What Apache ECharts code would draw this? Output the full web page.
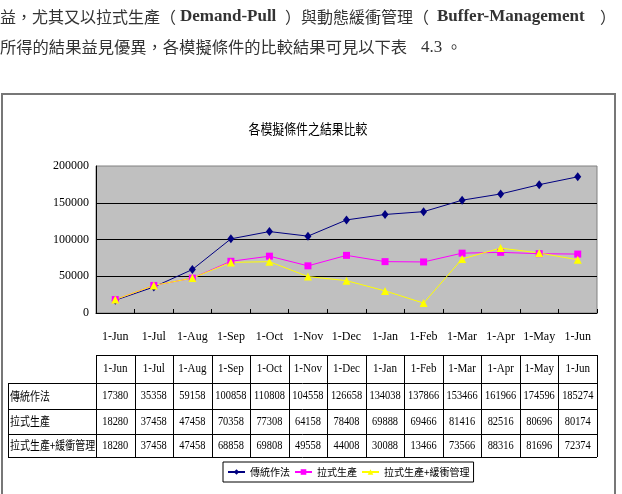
<!DOCTYPE html>
<html>
<head>
<meta charset="utf-8">
<script src="https://cdn.jsdelivr.net/npm/echarts/dist/echarts.min.js"></script>
<style>
html, body { margin: 0; padding: 0; background: #fff; }
#main { width: 622px; height: 494px; }
</style>
</head>
<body>
<div id="main"></div>
<script>
// data (table 4.3)
const months = ['1-Jun', '1-Jul', '1-Aug', '1-Sep', '1-Oct', '1-Nov', '1-Dec', '1-Jan', '1-Feb', '1-Mar', '1-Apr', '1-May', '1-Jun'];
const seriesNames = ['傳統作法', '拉式生產', '拉式生產+緩衝管理'];
const traditional = [17380, 35358, 59158, 100858, 110808, 104558, 126658, 134038, 137866, 153466, 161966, 174596, 185274];
const pull = [18280, 37458, 47458, 70358, 77308, 64158, 78408, 69888, 69466, 81416, 82516, 80696, 80174];
const pullBuffer = [18280, 37458, 47458, 68858, 69808, 49558, 44008, 30088, 13466, 73566, 88316, 81696, 72374];
const yMax = 200000;
const yStep = 50000;
const chartTitle = '各模擬條件之結果比較';

const CJK = "'Noto Sans CJK TC', sans-serif";
const SERIF = "'Liberation Serif', 'Times New Roman', serif";

// plot box
const plotL = 96, plotR = 597, plotT = 166, plotB = 313;
const colW = (plotR - plotL) / months.length;

const chartDom = document.getElementById('main');
let myChart = echarts.init(chartDom);

// page text above the chart
function pageText(x, y, text, font, size, weight) {
  return {
    type: 'text', x: x, y: y, z: 10,
    style: { text: text, fontFamily: font, fontSize: size, fontWeight: weight || 'normal',
      fill: '#333', textVerticalAlign: 'middle', textAlign: 'left' }
  };
}

let graphics = [
  pageText(0, 17, '益，尤其又以拉式生產（', CJK, 16),
  pageText(180, 17, 'Demand-Pull', SERIF, 17, 'bold'),
  pageText(285, 17, '）與動態緩衝管理（', CJK, 16),
  pageText(437, 17, 'Buffer-Management', SERIF, 17, 'bold'),
  pageText(600, 17, '）', CJK, 16),
  pageText(0, 47, '所得的結果益見優異，各模擬條件的比較結果可見以下表', CJK, 16.3),
  pageText(421, 48, '4.3', SERIF, 17),
  pageText(446, 47, '。', CJK, 16),
  // chart frame
  {
    type: 'rect', z: 1,
    shape: { x: 2, y: 94, width: 613, height: 430 },
    style: { fill: 'none', stroke: '#777', lineWidth: 2 }
  },
  {
    type: 'text', x: 308, y: 129, scaleX: 0.85, z: 10,
    style: { text: chartTitle, fontFamily: CJK, fontSize: 14, fill: '#000',
      textAlign: 'center', textVerticalAlign: 'middle' }
  }
];

// data table under the axis
const rowY = [355, 383, 409, 434, 457];
const tableL = 8;
function hLine(x1, x2, y) {
  return { type: 'line', z: 10, shape: { x1: x1, y1: y, x2: x2, y2: y }, style: { stroke: '#000', lineWidth: 1 } };
}
function vLine(x, y1, y2) {
  return { type: 'line', z: 10, shape: { x1: x, y1: y1, x2: x, y2: y2 }, style: { stroke: '#000', lineWidth: 1 } };
}
function cellText(x, y, text, font, size, align, sx) {
  return {
    type: 'text', x: x, y: y, scaleX: sx, z: 10,
    style: { text: text, fontFamily: font, fontSize: size, fill: '#000',
      textAlign: align, textVerticalAlign: 'middle' }
  };
}
graphics.push(hLine(plotL, plotR, rowY[0] + 0.5));
for (let r = 1; r < rowY.length; r++) graphics.push(hLine(tableL, plotR, rowY[r] + 0.5));
for (let c = 0; c <= months.length; c++) graphics.push(vLine(Math.round(plotL + c * colW) + 0.5, rowY[0], rowY[4]));
graphics.push(vLine(tableL + 0.5, rowY[1], rowY[4]));

const rows = [traditional, pull, pullBuffer];
months.forEach((m, i) => {
  const cx = plotL + (i + 0.5) * colW;
  graphics.push(cellText(cx, (rowY[0] + rowY[1]) / 2, m, SERIF, 13, 'center', 0.85));
  rows.forEach((vals, r) => {
    graphics.push(cellText(cx, (rowY[r + 1] + rowY[r + 2]) / 2, String(vals[i]), SERIF, 13, 'center', 0.8));
  });
});
seriesNames.forEach((name, r) => {
  graphics.push(cellText(tableL + 2, (rowY[r + 1] + rowY[r + 2]) / 2, name, CJK, 12, 'left', 0.83));
});

let option = {
  backgroundColor: '#fff',
  animation: false,
  grid: {
    left: plotL, right: 622 - plotR, top: plotT, bottom: 494 - plotB,
    show: true, backgroundColor: '#c0c0c0', borderColor: '#808080', borderWidth: 1,
    containLabel: false, outerBoundsMode: 'none'
  },
  legend: {
    left: 223, top: 462,
    orient: 'horizontal',
    borderColor: '#000', borderWidth: 1,
    padding: [5, 4],
    itemGap: 4,
    itemWidth: 17, itemHeight: 7,
    textStyle: { fontFamily: CJK, fontSize: 10, color: '#000' },
    data: seriesNames
  },
  xAxis: {
    type: 'category',
    data: months,
    boundaryGap: true,
    axisLine: { lineStyle: { color: '#000', width: 1 } },
    axisTick: { show: true, inside: true, length: 4, lineStyle: { color: '#000' } },
    axisLabel: { margin: 18, fontFamily: SERIF, fontSize: 12, color: '#000', interval: 0 },
    splitLine: { show: false }
  },
  yAxis: {
    type: 'value',
    min: 0, max: yMax, interval: yStep,
    axisLine: { show: true, lineStyle: { color: '#000', width: 1 } },
    axisTick: { show: false },
    axisLabel: { margin: 7, fontFamily: SERIF, fontSize: 12, color: '#000', formatter: v => String(v) },
    splitLine: { show: true, showMinLine: false, showMaxLine: false, lineStyle: { color: '#000', width: 1 } }
  },
  series: [
    {
      name: seriesNames[0], type: 'line', data: traditional,
      color: '#000080', symbol: 'diamond', symbolSize: [7, 9],
      lineStyle: { width: 1 }, itemStyle: { color: '#000080' }
    },
    {
      name: seriesNames[1], type: 'line', data: pull,
      color: '#ff00ff', symbol: 'rect', symbolSize: 7,
      lineStyle: { width: 1 }, itemStyle: { color: '#ff00ff' }
    },
    {
      name: seriesNames[2], type: 'line', data: pullBuffer,
      color: '#ffff00', symbol: 'triangle', symbolSize: 8,
      lineStyle: { width: 1 }, itemStyle: { color: '#ffff00' }
    }
  ],
  graphic: graphics
};
option && myChart.setOption(option);
</script>
</body>
</html>
